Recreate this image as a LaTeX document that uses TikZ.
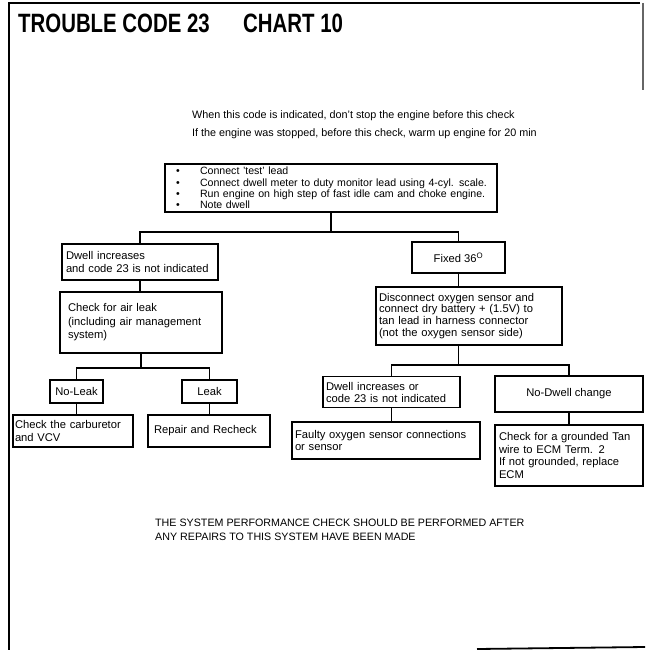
\documentclass[tikz,border=0pt]{standalone}
\usepackage{fontspec}
\setmainfont{Liberation Sans}
\newcommand\bul{\hspace*{5pt}\makebox[24pt][l]{\textbullet}}
\begin{document}
\begin{tikzpicture}[x=1pt,y=-1pt,
  box/.style={draw, line width=1.9pt, inner ysep=0pt, align=left,
    font=\fontsize{11.2}{12.8}\selectfont},
  cbox/.style={box, align=center, inner xsep=0pt},
  conn/.style={line width=1.9pt},
  frame/.style={line width=2.4pt},
  note/.style={anchor=base west, inner sep=0pt, font=\fontsize{10.8}{12}\selectfont}]
\useasboundingbox (0,0) rectangle (645,650);

% page frame
\draw[frame] (640,3) -- (9,3) -- (9,650);
\draw[line width=1.2pt, black!60] (643,3) -- (643,90);
\draw[line width=1.8pt] (477,649) -- (645,647);

% heading
\node[anchor=base west, inner sep=0pt, font=\bfseries\fontsize{26.5}{30}\selectfont]
  (t1) at (18,33) {\scalebox{0.77}[1]{TROUBLE CODE 23}};
\node[anchor=base west, inner sep=0pt, font=\bfseries\fontsize{26.5}{30}\selectfont]
  (t2) at (243,33) {\scalebox{0.77}[1]{CHART 10}};

\node[note] (n1) at (192,119) {When this code is indicated, don't stop the engine before this check};
\node[note] (n2) at (192,136) {If the engine was stopped, before this check, warm up engine for 20 min};

% flow chart boxes
\node[box, minimum width=332pt, minimum height=48pt, text width=320pt, inner xsep=6pt,
  font=\fontsize{10.6}{11.4}\selectfont] (top) at (331,188)
  {\bul Connect 'test' lead\\
   \bul Connect dwell meter to duty monitor lead using 4-cyl. scale.\\
   \bul Run engine on high step of fast idle cam and choke engine.\\
   \bul Note dwell};

\node[box, minimum width=156pt, minimum height=36pt, text width=148pt, inner xsep=4pt] (dwl) at (140,262)
  {Dwell increases\\and code 23 is not indicated};
\node[box, minimum width=158pt, minimum height=61pt, text width=146pt, inner xsep=8pt,
  font=\fontsize{11.2}{13.5}\selectfont] (air) at (141,322.5)
  {Check for air leak\\(including air management\\system)};
\node[cbox, minimum width=53pt, minimum height=23pt] (nol) at (76.5,391.5) {No-Leak};
\node[cbox, minimum width=55pt, minimum height=23pt] (lk) at (209.5,391.5) {Leak};
\node[box, minimum width=120pt, minimum height=32pt, text width=116pt, inner xsep=2pt] (carb) at (73,431)
  {Check the carburetor\\and VCV};
\node[box, minimum width=122pt, minimum height=32pt, text width=110pt, inner xsep=6pt] (rep) at (209,431)
  {Repair and Recheck};

\node[cbox, minimum width=93pt, minimum height=31pt] (fix) at (458.5,257.5) {Fixed 36\textsuperscript{O}};
\node[box, minimum width=186pt, minimum height=58pt, text width=180pt, inner xsep=3pt,
  font=\fontsize{11.2}{11.8}\selectfont] (disc) at (469,316)
  {Disconnect oxygen sensor and\\connect dry battery + (1.5V) to\\tan lead in harness connector\\(not the oxygen sensor side)};
\node[box, minimum width=137pt, minimum height=31pt, text width=131pt, inner xsep=3pt,
  font=\fontsize{11.2}{12}\selectfont] (dwr) at (391.5,392)
  {Dwell increases or\\code 23 is not indicated};
\node[box, minimum width=188pt, minimum height=37pt, text width=182pt, inner xsep=3pt] (fau) at (386,440.5)
  {Faulty oxygen sensor connections\\or sensor};
\node[cbox, minimum width=148pt, minimum height=36pt] (ndw) at (569,394) {No-Dwell change};
\node[box, minimum width=148pt, minimum height=61pt, text width=140pt, inner xsep=4pt] (gnd) at (569,455.5)
  {Check for a grounded Tan\\wire to ECM Term. 2\\If not grounded, replace\\ECM};

% connectors
\coordinate (h1) at (331,232);
\coordinate (h2) at (141,368);
\coordinate (h3) at (458.5,365);
\draw[conn] (top.south) -- (h1);
\draw[conn] (dwl.north) |- (h1) -| (fix.north);
\draw[conn] (dwl.south) -- (dwl.south |- air.north);
\draw[conn] (air.south) -- (h2);
\draw[conn] (nol.north) |- (h2) -| (lk.north);
\draw[conn] (nol.south) -- (nol.south |- carb.north);
\draw[conn] (lk.south) -- (lk.south |- rep.north);
\draw[conn] (fix.south) -- (fix.south |- disc.north);
\draw[conn] (h3 |- disc.south) -- (h3);
\draw[conn] (dwr.north) |- (h3) -| (ndw.north);
\draw[conn] (dwr.south) -- (dwr.south |- fau.north);
\draw[conn] (ndw.south) -- (ndw.south |- gnd.north);

% closing remark
\node[note, font=\fontsize{10.7}{12}\selectfont] (r1) at (155,526) {THE SYSTEM PERFORMANCE CHECK SHOULD BE PERFORMED AFTER};
\node[note, font=\fontsize{10.7}{12}\selectfont] (r2) at (155,540) {ANY REPAIRS TO THIS SYSTEM HAVE BEEN MADE};
\end{tikzpicture}
\end{document}
